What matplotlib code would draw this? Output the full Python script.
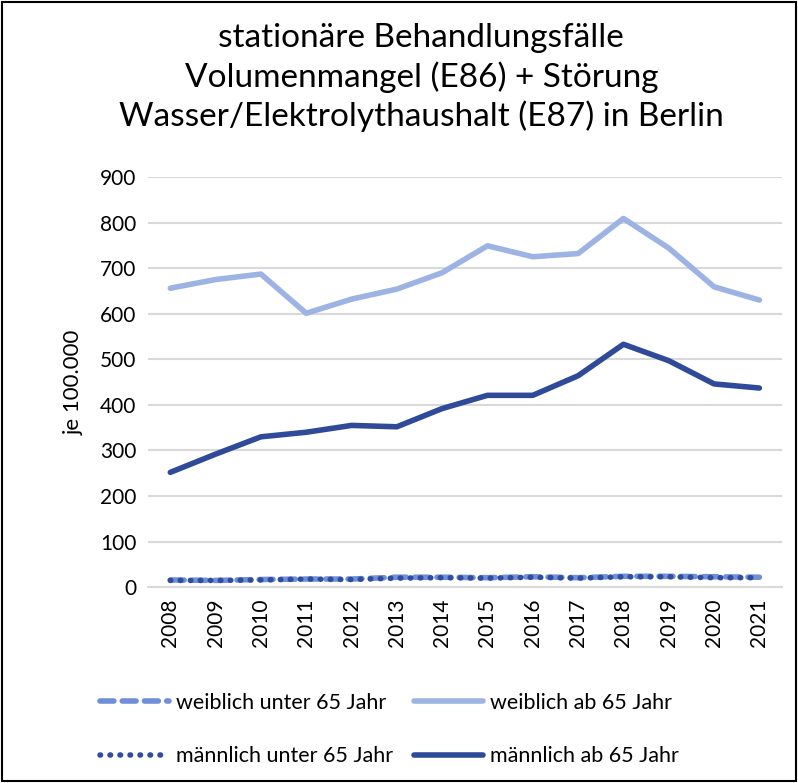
import matplotlib.pyplot as plt
from matplotlib.patches import Rectangle

years = [str(y) for y in range(2008, 2022)]

weiblich_unter_65 = [16, 15, 17, 18, 18, 22, 22, 21, 23, 21, 24, 24, 23, 22]
weiblich_ab_65 = [656, 675, 687, 601, 632, 654, 690, 749, 725, 732, 809, 744, 659, 630]
maennlich_unter_65 = [15, 15, 16, 18, 17, 20, 21, 20, 22, 20, 23, 23, 21, 21]
maennlich_ab_65 = [252, 292, 330, 340, 355, 352, 392, 421, 421, 464, 533, 497, 446, 437]

plt.rcParams['font.family'] = ['Lato', 'DejaVu Sans']

fig = plt.figure(figsize=(7.98, 7.83), dpi=100)
ax = fig.add_axes([0.185, 0.25, 0.795, 0.524])

x = range(len(years))
l1, = ax.plot(x, weiblich_unter_65, color="#6F8FD8", lw=4, ls=(0, (2.5, 1.5)),
              dash_capstyle="round", label="weiblich unter 65 Jahr")
l2, = ax.plot(x, weiblich_ab_65, color="#9DB3E4", lw=4, solid_capstyle="round",
              label="weiblich ab 65 Jahr")
l3, = ax.plot(x, maennlich_unter_65, color="#2F4C9E", lw=4, ls=(0, (0.1, 1.7)),
              dash_capstyle="round", label="männlich unter 65 Jahr")
l4, = ax.plot(x, maennlich_ab_65, color="#2E4A98", lw=4, solid_capstyle="round",
              label="männlich ab 65 Jahr")

ax.set_xlim(-0.5, len(years) - 0.5)
ax.set_ylim(0, 900)
ax.set_yticks(range(0, 901, 100))
ax.set_xticks(list(x))
ax.set_xticklabels(years, rotation=90)
ax.tick_params(axis="both", length=0, labelsize=15, pad=8)
ax.grid(axis="y", color="#D9D9D9", lw=1.5)
ax.set_axisbelow(True)
for s in ["top", "right", "left"]:
    ax.spines[s].set_visible(False)
ax.spines["bottom"].set_color("#D9D9D9")
ax.spines["bottom"].set_linewidth(1.5)
ax.set_ylabel("je 100.000", fontsize=16, labelpad=12)

fig.suptitle("stationäre Behandlungsfälle\nVolumenmangel (E86) + Störung\nWasser/Elektrolythaushalt (E87) in Berlin",
             fontsize=24, y=0.97, x=0.528, linespacing=1.3)

# column-wise fill: weiblich in row 1, männlich in row 2
ax.legend([l1, l3, l2, l4],
          [l1.get_label(), l3.get_label(), l2.get_label(), l4.get_label()],
          loc="upper left", bbox_to_anchor=(-0.105, -0.21), ncol=2, frameon=False,
          fontsize=15.5, handlelength=3.2, columnspacing=1.0, handletextpad=0.3,
          labelspacing=1.55)

fig.patches.append(Rectangle((0.002, 0.002), 0.996, 0.996, transform=fig.transFigure,
                             fill=False, edgecolor="black", lw=1.5))

fig.savefig("out.png", dpi=100)
